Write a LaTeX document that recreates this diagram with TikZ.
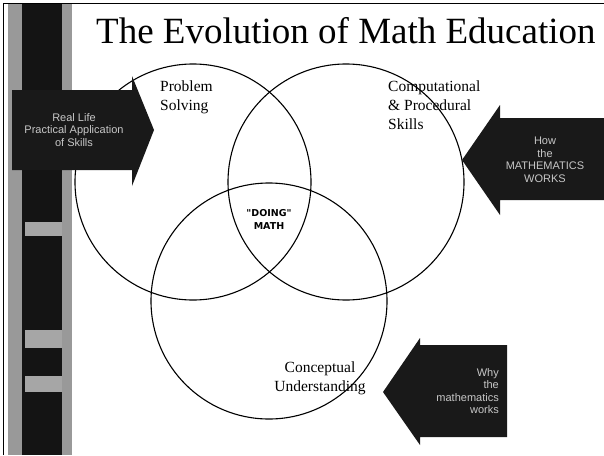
\documentclass[tikz,border=0pt]{standalone}
\usepackage{fontspec}
\setmainfont{Liberation Serif}
\newfontfamily\evosans{Liberation Sans}
\newfontfamily\evoheavy{DejaVu Sans}
\begin{document}
\begin{tikzpicture}[x=1pt, y=-1pt,
  evocircle/.style = {line width=1.1pt, draw=black},
  evoarrow/.style = {fill=black!90},
  evoarrowtxt/.style = {text=white!78!black, font=\evosans\fontsize{11}{12.5}\selectfont, align=center, inner sep=0pt},
  evolbl/.style = {font=\fontsize{15.5}{19}\selectfont, align=left, inner sep=0pt},
  evoband/.style = {fill=black!35}
]
  \useasboundingbox (0,0) rectangle (604,455);
  \fill[white] (0,0) rectangle (604,455);
  % slide frame
  \draw[thin] (3,455) -- (3,3) -- (604,3);
  % left bar
  \fill[black!40] (8,4) rectangle (72,455);
  \fill[black!92] (22,4) rectangle (62,455);
  \fill[evoband] (25,222) rectangle (62,236);
  \fill[evoband] (25,330) rectangle (62,348);
  \fill[evoband] (25,376) rectangle (62,392);
  % title
  \node[anchor=base west, inner sep=0pt, font=\fontsize{37}{40}\selectfont] (title) at (96,43) {The Evolution of Math Education};
  % the three circles
  \draw[evocircle] (193,182) circle (118);
  \draw[evocircle] (346,182) circle (118);
  \draw[evocircle] (269,301) circle (118);
  % circle labels
  \node[evolbl, anchor=north west] (solving) at (160,81) {Problem\\Solving};
  \node[evolbl, anchor=north west] (skills) at (388,81) {Computational\\\& Procedural\\Skills};
  \node[evolbl, align=center] (concept) at (320,378) {Conceptual\\Understanding};
  \node[font=\evoheavy\bfseries\fontsize{9.5}{13}\selectfont, align=center, inner sep=0pt] (doing) at (269,219) {"DOING"\\MATH};
  % left arrow
  \fill[evoarrow] (12,90) -- (132,90) -- (132,76) -- (154,130) -- (132,186) -- (132,170) -- (12,170) -- cycle;
  \node[evoarrowtxt] (reallife) at (74,130) {Real Life\\Practical Application\\of Skills};
  % right arrow
  \fill[evoarrow] (604,118) -- (500,118) -- (500,105) -- (462,160) -- (500,215) -- (500,200) -- (604,200) -- cycle;
  \node[evoarrowtxt] (howworks) at (545,160) {How\\the\\MATHEMATICS\\WORKS};
  % bottom arrow
  \fill[evoarrow] (507,345) -- (420,345) -- (420,338) -- (383,392) -- (420,445) -- (420,437) -- (507,437) -- cycle;
  \node[evoarrowtxt, align=right, anchor=east] (whyworks) at (499,391) {Why\\the\\mathematics\\works};
\end{tikzpicture}
\end{document}
